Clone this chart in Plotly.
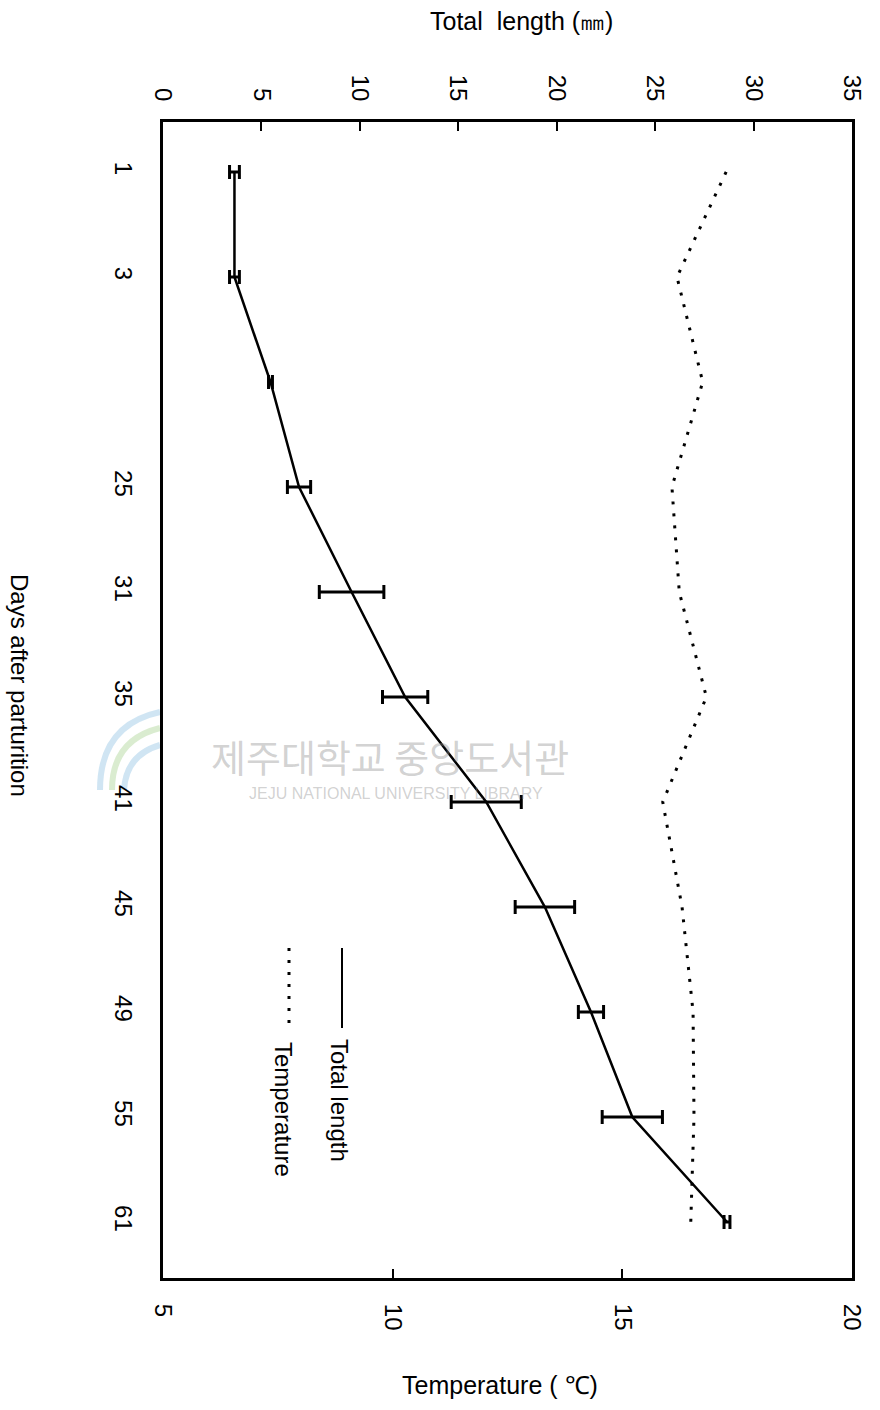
import plotly.graph_objects as go

# Days after parturition (one sampling date has no printed label)
day_labels = ["1", "3", "", "25", "31", "35", "41", "45", "49", "55", "61"]
# Mean total length (mm) and its error
total_length = [3.63, 3.63, 5.46, 6.91, 9.58, 12.3, 16.42, 19.4, 21.74, 23.84, 28.65]
length_err = [0.25, 0.25, 0.1, 0.59, 1.64, 1.15, 1.78, 1.51, 0.64, 1.53, 0.15]
# Water temperature (deg C)
temperature = [17.26, 16.19, 16.75, 16.08, 16.24, 16.83, 15.88, 16.30, 16.54, 16.56, 16.49]

length_ticks = [0, 5, 10, 15, 20, 25, 30, 35]
temp_ticks = [5, 10, 15, 20]

W, H = 880, 1410
ML, MR, MT, MB = 163, 28, 122, 132
PW, PH = W - ML - MR, H - MT - MB


def px(x):
    return (x - ML) / PW


def py(y):
    return (H - MB - y) / PH


FONT = "Liberation Sans, Arial, sans-serif"
pos = list(range(len(day_labels)))
yrange = [10.533, -0.476]

fig = go.Figure()

fig.add_trace(go.Scatter(
    x=temperature, y=pos, xaxis="x", yaxis="y", mode="lines",
    line=dict(color="black", width=3, dash="3px,9px"), name="Temperature",
    showlegend=False,
))
fig.add_trace(go.Scatter(
    x=total_length, y=pos, xaxis="x2", yaxis="y", mode="lines",
    line=dict(color="black", width=2.5), name="Total length",
    error_x=dict(type="data", array=length_err, color="black", thickness=3, width=7),
    showlegend=False,
))

fig.update_layout(
    width=W, height=H,
    margin=dict(l=ML, r=MR, t=MT, b=MB),
    paper_bgcolor="white", plot_bgcolor="white",
    font=dict(family=FONT, size=24, color="black"),
    xaxis=dict(
        range=[5, 20], tickvals=temp_ticks, ticktext=[str(v) for v in temp_ticks],
        tickangle=90, ticks="inside", ticklen=9, tickwidth=1.5, tickcolor="black",
        showgrid=False, zeroline=False, showline=True, linewidth=3, linecolor="black",
        mirror=True, ticklabelstandoff=18, side="bottom",
    ),
    xaxis2=dict(
        range=[0, 35], tickvals=length_ticks, ticktext=[str(v) for v in length_ticks],
        tickangle=90, ticks="inside", ticklen=9, tickwidth=1.5, tickcolor="black",
        showgrid=False, zeroline=False, showline=False, overlaying="x", side="top",
        anchor="y", ticklabelstandoff=16,
    ),
    yaxis=dict(
        range=yrange, tickvals=pos, ticktext=day_labels, tickangle=90,
        ticks="", showgrid=False, zeroline=False, showline=True, linewidth=3,
        linecolor="black", mirror=True, ticklabelstandoff=16,
    ),
    yaxis2=dict(
        range=yrange, tickvals=[p + 0.5 for p in pos[:-1]], showticklabels=False,
        ticks="inside", ticklen=9, tickwidth=1.5, tickcolor="black",
        showgrid=False, zeroline=False, overlaying="y", side="left", anchor="x",
    ),
)

annotations = [
    dict(text="Total  length (㎜)", x=px(521), y=py(21), font=dict(size=25)),
    dict(text="Temperature ( ℃)", x=px(500), y=py(1385), font=dict(size=25)),
    dict(text="Days after parturition", x=px(20), y=py(685), textangle=90, font=dict(size=24)),
    dict(text="Total length", x=px(340), y=py(1100), textangle=90, font=dict(size=24)),
    dict(text="Temperature", x=px(284), y=py(1109), textangle=90, font=dict(size=24)),
    # library watermark
    dict(text="제주대학교 중앙도서관", x=px(390), y=py(755),
         font=dict(family="Noto Sans CJK KR", size=38, color="rgba(140,140,140,0.4)")),
    dict(text="JEJU NATIONAL UNIVERSITY LIBRARY", x=px(396), y=py(793),
         font=dict(family=FONT, size=16, color="rgba(140,140,140,0.4)")),
]
for a in annotations:
    a.update(xref="paper", yref="paper", showarrow=False, xanchor="center", yanchor="middle")
fig.update_layout(annotations=annotations)

shapes = [
    # legend keys
    dict(type="line", xref="paper", yref="paper", x0=px(342), x1=px(342), y0=py(948), y1=py(1028),
         line=dict(color="black", width=2)),
    dict(type="line", xref="paper", yref="paper", x0=px(289), x1=px(289), y0=py(948), y1=py(1028),
         line=dict(color="black", width=3, dash="3px,9px")),
    # watermark logo
    dict(type="path", xref="paper", yref="paper", layer="below",
         path=f"M {px(100)},{py(790)} Q {px(100)},{py(725)} {px(160)},{py(712)}",
         line=dict(color="rgba(120,180,220,0.35)", width=6)),
    dict(type="path", xref="paper", yref="paper", layer="below",
         path=f"M {px(112)},{py(790)} Q {px(112)},{py(740)} {px(160)},{py(728)}",
         line=dict(color="rgba(150,200,120,0.35)", width=6)),
    dict(type="path", xref="paper", yref="paper", layer="below",
         path=f"M {px(124)},{py(790)} Q {px(126)},{py(755)} {px(160)},{py(745)}",
         line=dict(color="rgba(120,180,220,0.35)", width=6)),
]
fig.update_layout(shapes=shapes)

fig.write_html("out.html")
